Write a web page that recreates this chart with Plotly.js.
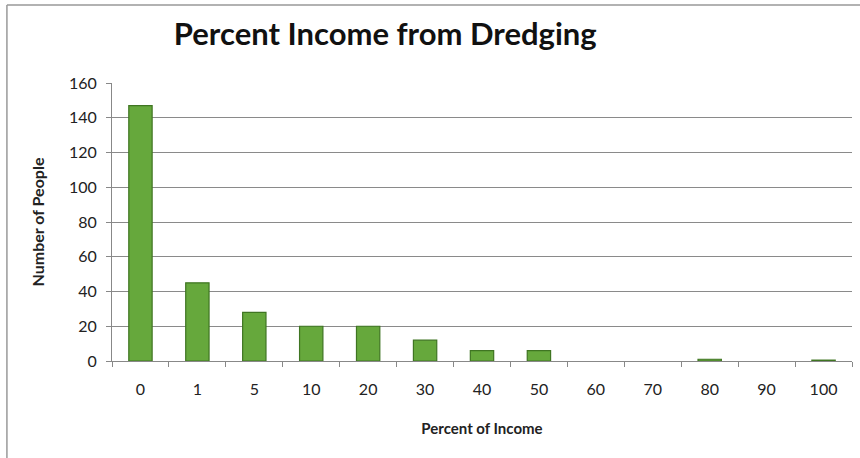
<!DOCTYPE html>
<html>
<head>
<meta charset="utf-8">
<script src="https://cdn.plot.ly/plotly-3.0.1.min.js"></script>
<style>html,body{margin:0;padding:0;background:#fff;}#chart{width:860px;height:458px;}</style>
</head>
<body>
<div id="chart"></div>
<script>
var categories = ["0","1","5","10","20","30","40","50","60","70","80","90","100"];
var people = [147, 45, 28, 20, 20, 12, 6, 6, 0, 0, 1, 0, 0.5];
var yTicks = [0,20,40,60,80,100,120,140,160];

var FONT = "Lato, 'Open Sans', sans-serif";
var trace = {
  type: "bar",
  x: categories,
  y: people,
  width: 0.41,
  marker: {color: "#66a83c", line: {color: "#3f7522", width: people.map(function(v){ return v > 0 ? 1.2 : 0; })}},
  hoverinfo: "x+y"
};
var layout = {
  width: 860, height: 458,
  margin: {l: 112, r: 8, t: 83, b: 97},
  paper_bgcolor: "#ffffff", plot_bgcolor: "#ffffff",
  showlegend: false,
  title: {text: "<b>Percent Income from Dredging</b>", xref: "container", x: 0.448, xanchor: "center", yref: "container", y: 0.925, yanchor: "middle", font: {family: FONT, size: 31, color: "#111"}},
  xaxis: {
    type: "category", tickson: "boundaries", ticks: "outside", ticklen: 5, tickcolor: "#888",
    showline: true, linecolor: "#888", linewidth: 1, showgrid: false,
    tickfont: {family: FONT, size: 16, color: "#222"}, ticklabelstandoff: 14,
    title: {text: "<b>Percent of Income</b>", font: {family: FONT, size: 15, color: "#222"}, standoff: 26},
    range: [-0.5, 12.5]
  },
  yaxis: {
    range: [0, 160], tickvals: yTicks, ticks: "outside", ticklen: 5, tickcolor: "#888",
    showline: true, linecolor: "#888", linewidth: 1,
    showgrid: true, gridcolor: "#8a8a8a", gridwidth: 1, zeroline: false,
    tickfont: {family: FONT, size: 16, color: "#222"}, ticklabelstandoff: 6,
    title: {text: "<b>Number of People</b>", font: {family: FONT, size: 16, color: "#222"}, standoff: 20}
  },
  shapes: [
    {type: "line", xref: "paper", yref: "paper", x0: -0.142, x1: -0.142, y0: 1.281, y1: -0.4, line: {color: "#999", width: 1.5}},
    {type: "line", xref: "paper", yref: "paper", x0: -0.142, x1: 1.05, y0: 1.281, y1: 1.281, line: {color: "#999", width: 1.5}}
  ]
};
Plotly.newPlot("chart", [trace], layout, {displayModeBar: false, staticPlot: true});
</script>
</body>
</html>
